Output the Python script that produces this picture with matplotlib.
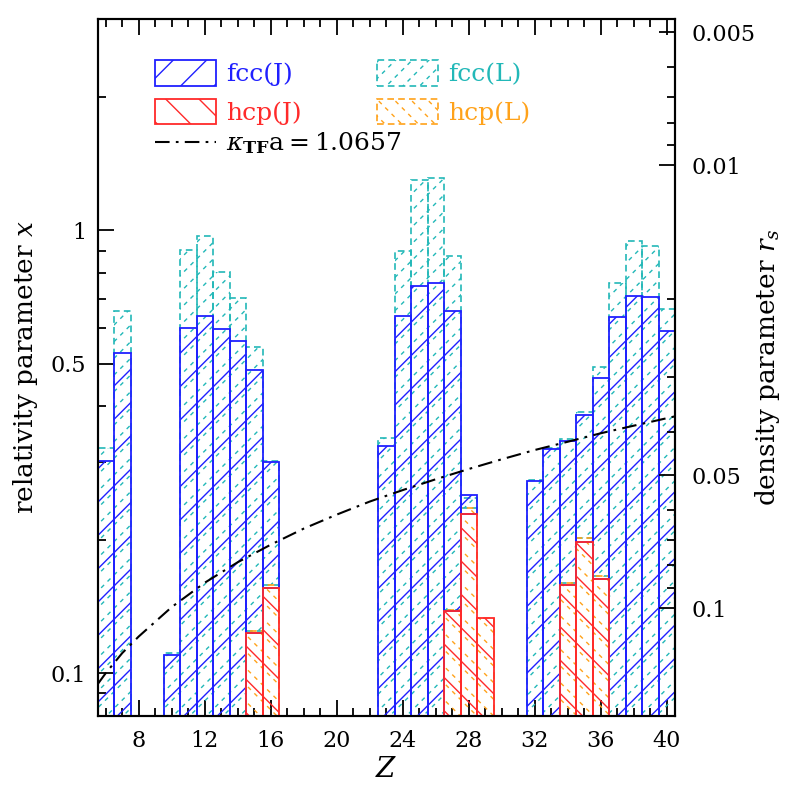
"""
Histogram of relativity parameter x vs Z for fcc/hcp lattices (J and L sets),
with the Thomas-Fermi screening line kappa_TF a = 1.0657.
Right axis shows the equivalent density parameter r_s.
"""

import numpy as np
import matplotlib
matplotlib.use("Agg")
import matplotlib.pyplot as plt
from matplotlib.patches import Rectangle
from matplotlib.lines import Line2D
from matplotlib.collections import LineCollection
from matplotlib.legend_handler import HandlerBase
from matplotlib.ticker import FixedLocator, FixedFormatter, MultipleLocator, NullFormatter

plt.rcParams["font.family"] = ["DejaVu Serif"]
plt.rcParams["mathtext.fontset"] = "dejavuserif"
plt.rcParams["hatch.linewidth"] = 1.0

# ── Data ──────────────────────────────────────────────────────────────────────

Z_FCC_J = [6, 7, 10, 11, 12, 13, 14, 15, 16, 23, 24, 25, 26, 27, 28,
           32, 33, 34, 35, 36, 37, 38, 39, 40]
X_FCC_J = [0.302, 0.527, 0.110, 0.602, 0.640, 0.598, 0.563, 0.484, 0.299,
           0.325, 0.640, 0.749, 0.762, 0.657, 0.252,
           0.271, 0.321, 0.335, 0.383, 0.465, 0.638, 0.711, 0.708, 0.593]

Z_FCC_L = Z_FCC_J
X_FCC_L = [0.323, 0.657, 0.111, 0.902, 0.972, 0.806, 0.702, 0.544, 0.302,
           0.340, 0.896, 1.300, 1.314, 0.873, 0.248,
           0.273, 0.323, 0.337, 0.388, 0.490, 0.762, 0.944, 0.923, 0.664]

Z_HCP_J = [15, 16, 27, 28, 29, 34, 35, 36]
X_HCP_J = [0.123, 0.156, 0.138, 0.229, 0.133, 0.158, 0.198, 0.163]

Z_HCP_L = Z_HCP_J
X_HCP_L = [0.1245, 0.158, 0.139, 0.2355, 0.133, 0.160, 0.2015, 0.1655]

Z_TF = [5.5, 6, 7, 8, 10, 12, 14, 16, 18, 20, 22, 24, 26, 28, 30, 32, 34, 36, 38, 40.5]
X_TF = [0.0943, 0.100, 0.111, 0.121, 0.141, 0.160, 0.178, 0.195, 0.212, 0.228,
        0.244, 0.259, 0.274, 0.289, 0.304, 0.319, 0.333, 0.348, 0.362, 0.380]

X_MAJOR        = [0.1, 0.5, 1.0]
X_MAJOR_LABELS = ["0.1", "0.5", "1"]
X_MINOR        = [0.08, 0.09, 0.2, 0.3, 0.4, 0.6, 0.7, 0.8, 0.9, 2.0, 3.0]
RS_MAJOR        = [0.005, 0.01, 0.05, 0.1]
RS_MAJOR_LABELS = ["0.005", "0.01", "0.05", "0.1"]
RS_MINOR        = [0.006, 0.007, 0.008, 0.009, 0.02, 0.03, 0.04,
                   0.06, 0.07, 0.08, 0.09]

X_MIN, X_MAX = 0.08, 3.0
RS_CONST = 0.014005          # x = RS_CONST / r_s

C_BLUE   = "#2020ff"
C_CYAN   = "#22b8b8"
C_RED    = "#ff2a2a"
C_ORANGE = "#ffa21a"


# ── Helpers ───────────────────────────────────────────────────────────────────

def hatch_lines(fig, color, slope):
    """Dashed diagonal lines over the whole figure (inch units), to be clipped."""
    ks = np.arange(-10, 18, 1 / 6)
    segs = [((-1, k - slope), (9, k + 9 * slope)) for k in ks]
    return LineCollection(segs, colors=color, linewidths=1.0,
                          linestyles=[(0, (3.0, 3.5))],
                          transform=fig.dpi_scale_trans)


def dashed_bars(ax, z, top, bottom, color, slope):
    bars = ax.bar(z, np.array(top) - np.array(bottom), bottom=bottom, width=1.0,
                  fill=False, edgecolor=color, linewidth=1.2,
                  linestyle=(0, (4.0, 2.5)), zorder=2)
    for p in bars.patches:
        lc = hatch_lines(ax.figure, color, slope)
        ax.add_collection(lc, autolim=False)
        lc.set_clip_path(p)
        lc.set_zorder(2)
    return bars


class DashHatchHandler(HandlerBase):
    def __init__(self, color, slope):
        super().__init__()
        self.color = color
        self.slope = slope

    def create_artists(self, legend, orig_handle, xdescent, ydescent,
                       width, height, fontsize, trans):
        rect = Rectangle((-xdescent, -ydescent), width, height, fill=False,
                         edgecolor=self.color, linewidth=1.2,
                         linestyle=(0, (4.0, 2.5)), transform=trans)
        lc = hatch_lines(legend.figure, self.color, self.slope)
        lc.set_clip_path(rect)
        return [rect, lc]


# ── Figure ────────────────────────────────────────────────────────────────────

fig = plt.figure(figsize=(7.89, 7.89), dpi=100)
ax = fig.add_axes([0.1236, 0.0925, 0.732, 0.8835])
ax.set_yscale("log")
ax.set_xlim(5.5, 40.5)
ax.set_ylim(X_MIN, X_MAX)

hcp_j = dict(zip(Z_HCP_J, X_HCP_J))
hcp_l = dict(zip(Z_HCP_L, X_HCP_L))
bot_fcc_j = [hcp_j.get(z, X_MIN) for z in Z_FCC_J]
bot_fcc_l = [hcp_l.get(z, X_MIN) for z in Z_FCC_L]

# L sets: dashed outline and dashed hatch
dashed_bars(ax, Z_FCC_L, X_FCC_L, bot_fcc_l, C_CYAN, 1)
dashed_bars(ax, Z_HCP_L, X_HCP_L, [X_MIN] * len(Z_HCP_L), C_ORANGE, -1)

# J sets: solid outline and hatch
ax.bar(Z_FCC_J, np.array(X_FCC_J) - np.array(bot_fcc_j), bottom=bot_fcc_j,
       width=1.0, fill=False, edgecolor=C_BLUE, hatch="/", linewidth=1.3, zorder=3)
ax.bar(Z_HCP_J, np.array(X_HCP_J) - X_MIN, bottom=X_MIN,
       width=1.0, fill=False, edgecolor=C_RED, hatch="\\", linewidth=1.3, zorder=3)

tf_style = dict(color="black", linewidth=1.5, linestyle=(0, (7, 3, 1.3, 3)))
ax.plot(Z_TF, X_TF, zorder=4, **tf_style)

# ── Axes / ticks ──────────────────────────────────────────────────────────────

for s in ax.spines.values():
    s.set_linewidth(1.5)

ax.xaxis.set_major_locator(MultipleLocator(4))
ax.xaxis.set_minor_locator(MultipleLocator(1))
ax.yaxis.set_major_locator(FixedLocator(X_MAJOR))
ax.yaxis.set_major_formatter(FixedFormatter(X_MAJOR_LABELS))
ax.yaxis.set_minor_locator(FixedLocator(X_MINOR))
ax.yaxis.set_minor_formatter(NullFormatter())
ax.tick_params(which="both", direction="in", top=True, right=False,
               width=1.3, labelsize=16)
ax.tick_params(which="major", length=11.5)
ax.tick_params(which="minor", length=5.8)
ax.tick_params(axis="x", pad=10)
ax.tick_params(axis="y", pad=8)

ax2 = ax.twinx()
ax2.set_yscale("log")
ax2.set_ylim(RS_CONST / X_MIN, RS_CONST / X_MAX)
ax2.yaxis.set_major_locator(FixedLocator(RS_MAJOR))
ax2.yaxis.set_major_formatter(FixedFormatter(RS_MAJOR_LABELS))
ax2.yaxis.set_minor_locator(FixedLocator(RS_MINOR))
ax2.yaxis.set_minor_formatter(NullFormatter())
ax2.tick_params(which="both", direction="in", width=1.3, labelsize=16, pad=12)
ax2.tick_params(which="major", length=11.5)
ax2.tick_params(which="minor", length=5.8)
for s in ax2.spines.values():
    s.set_linewidth(1.5)

ax.set_xlabel("$Z$", fontsize=20, labelpad=3)
ax.set_ylabel("relativity parameter $x$", fontsize=19)
ax.yaxis.set_label_coords(-0.1, 0.5)
ax2.set_ylabel("density parameter $r_s$", fontsize=19)
ax2.yaxis.set_label_coords(1.135, 0.5)

# ── Legend ────────────────────────────────────────────────────────────────────

h_fcc_j = Rectangle((0, 0), 1, 1, fill=False, edgecolor=C_BLUE, hatch="/", linewidth=1.3)
h_hcp_j = Rectangle((0, 0), 1, 1, fill=False, edgecolor=C_RED, hatch="\\", linewidth=1.3)
h_fcc_l = Rectangle((0, 0), 1, 1)
h_hcp_l = Rectangle((0, 0), 1, 1)

leg = ax.legend([h_fcc_j, h_hcp_j, h_fcc_l, h_hcp_l],
                ["fcc(J)", "hcp(J)", "fcc(L)", "hcp(L)"],
                handler_map={h_fcc_l: DashHatchHandler(C_CYAN, 1),
                             h_hcp_l: DashHatchHandler(C_ORANGE, -1)},
                ncol=2, loc="upper left", bbox_to_anchor=(0.0996, 0.941),
                frameon=False, fontsize=18, handlelength=2.45, handleheight=1.2,
                handletextpad=0.4, labelspacing=0.5, columnspacing=3.0,
                borderpad=0, borderaxespad=0)
for t, c in zip(leg.get_texts(), [C_BLUE, C_RED, C_CYAN, C_ORANGE]):
    t.set_color(c)
ax.add_artist(leg)

h_tf = Line2D([], [], **tf_style)
ax.legend([h_tf], [r"$\kappa_{\mathbf{TF}}$a$=$1.0657"], loc="upper left",
          bbox_to_anchor=(0.0996, 0.84), frameon=False, fontsize=18,
          handlelength=2.45, handletextpad=0.4, borderpad=0, borderaxespad=0)

fig.savefig("out.png", dpi=100)
